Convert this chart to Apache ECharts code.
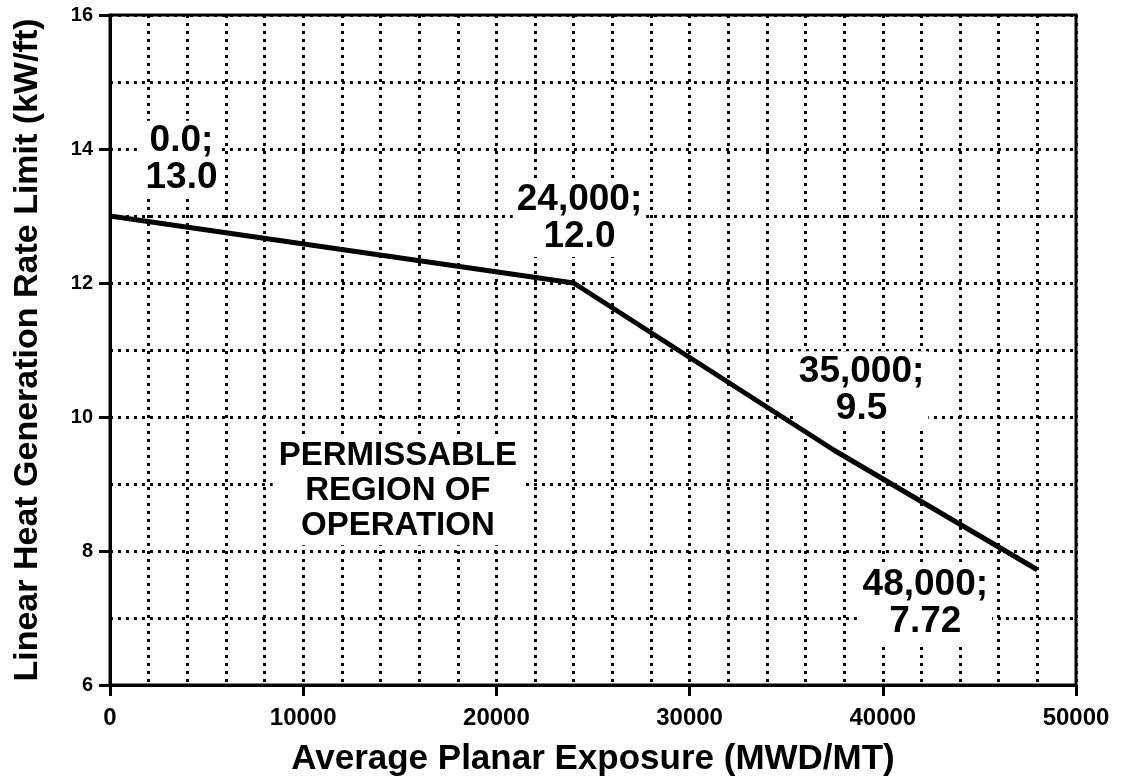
<!DOCTYPE html>
<html>
<head>
<meta charset="utf-8">
<script src="https://cdn.jsdelivr.net/npm/echarts@6/dist/echarts.min.js"></script>
<style>html,body{margin:0;padding:0;background:#fff}#c{width:1126px;height:782px}</style>
</head>
<body>
<div id="c"></div>
<script>
// ---- data ----
const exposure = [0, 24000, 37500, 48000];          // MWD/MT (as drawn)
const lhgrLimit = [13.0, 12.0, 9.5, 7.72];          // kW/ft
const pointLabels = ['0.0;\n13.0', '24,000;\n12.0', '35,000;\n9.5', '48,000;\n7.72'];
const regionLabel = 'PERMISSABLE\nREGION OF\nOPERATION';
const xTitle = 'Average Planar Exposure (MWD/MT)';
const yTitle = 'Linear Heat Generation Rate Limit (kW/ft)';

// annotation anchor positions (data units) – layout only
const labelAnchors = [[3700, 13.84], [24300, 12.97], [38900, 10.4], [42200, 7.22]];
const regionAnchor = [14900, 8.9];

const chart = echarts.init(document.getElementById('c'), null, {renderer: 'canvas'});
const FONT = '"Liberation Sans", Arial, Helvetica, sans-serif';
const dotted = {color: '#000', width: 3, type: [3, 5]};

const option = {
  backgroundColor: '#fff',
  animation: false,
  grid: {left: 110, right: 50, top: 15, bottom: 97, show: true, borderColor: '#000', borderWidth: 3, backgroundColor: 'transparent'},
  xAxis: {
    type: 'value', min: 0, max: 50000, interval: 10000,
    axisLine: {show: true, lineStyle: {color: '#000', width: 3}},
    axisTick: {show: true, length: 11, lineStyle: {color: '#000', width: 3}},
    axisLabel: {color: '#000', fontFamily: FONT, fontWeight: 'bold', fontSize: 24, margin: 21,
                formatter: v => String(v)},
    splitLine: {show: true, lineStyle: dotted},
    minorTick: {show: false, splitNumber: 5},
    minorSplitLine: {show: true, lineStyle: dotted},
    name: xTitle, nameLocation: 'middle', nameGap: 57,
    nameTextStyle: {color: '#000', fontFamily: FONT, fontSize: 35, fontWeight: 'bold'}
  },
  yAxis: {
    type: 'value', min: 6, max: 16, interval: 2,
    axisLine: {show: true, lineStyle: {color: '#000', width: 3}},
    axisTick: {show: true, length: 11, lineStyle: {color: '#000', width: 3}},
    axisLabel: {color: '#000', fontFamily: FONT, fontWeight: 'bold', fontSize: 20, margin: 17},
    splitLine: {show: true, lineStyle: dotted},
    minorTick: {show: false, splitNumber: 2},
    minorSplitLine: {show: true, lineStyle: dotted},
    name: yTitle, nameLocation: 'middle', nameGap: 65,
    nameTextStyle: {color: '#000', fontFamily: FONT, fontSize: 34, fontWeight: 'bold'}
  },
  series: [
    {
      type: 'line', name: 'LHGR limit',
      data: exposure.map((x, i) => [x, lhgrLimit[i]]),
      symbol: 'none', lineStyle: {color: '#000', width: 5}, z: 6
    },
    {
      type: 'scatter', name: 'labels', symbolSize: 0, z: 4,
      itemStyle: {opacity: 1},
      data: labelAnchors.map((p, i) => ({value: p, label: {formatter: pointLabels[i]}})),
      label: {show: true, position: 'inside', color: '#000', fontFamily: FONT, fontSize: 37, lineHeight: 37,
              fontWeight: 'bold', align: 'center', backgroundColor: '#fff', padding: [2, 4], textBorderWidth: 0}
    },
    {
      type: 'scatter', name: 'region', symbolSize: 0, z: 4,
      itemStyle: {opacity: 1},
      data: [{value: regionAnchor, label: {formatter: regionLabel}}],
      label: {show: true, position: 'inside', color: '#000', fontFamily: FONT, fontSize: 33, lineHeight: 35,
              fontWeight: 'bold', align: 'center', backgroundColor: '#fff', padding: [2, 6], textBorderWidth: 0}
    }
  ]
};
chart.setOption(option);
</script>
</body>
</html>
